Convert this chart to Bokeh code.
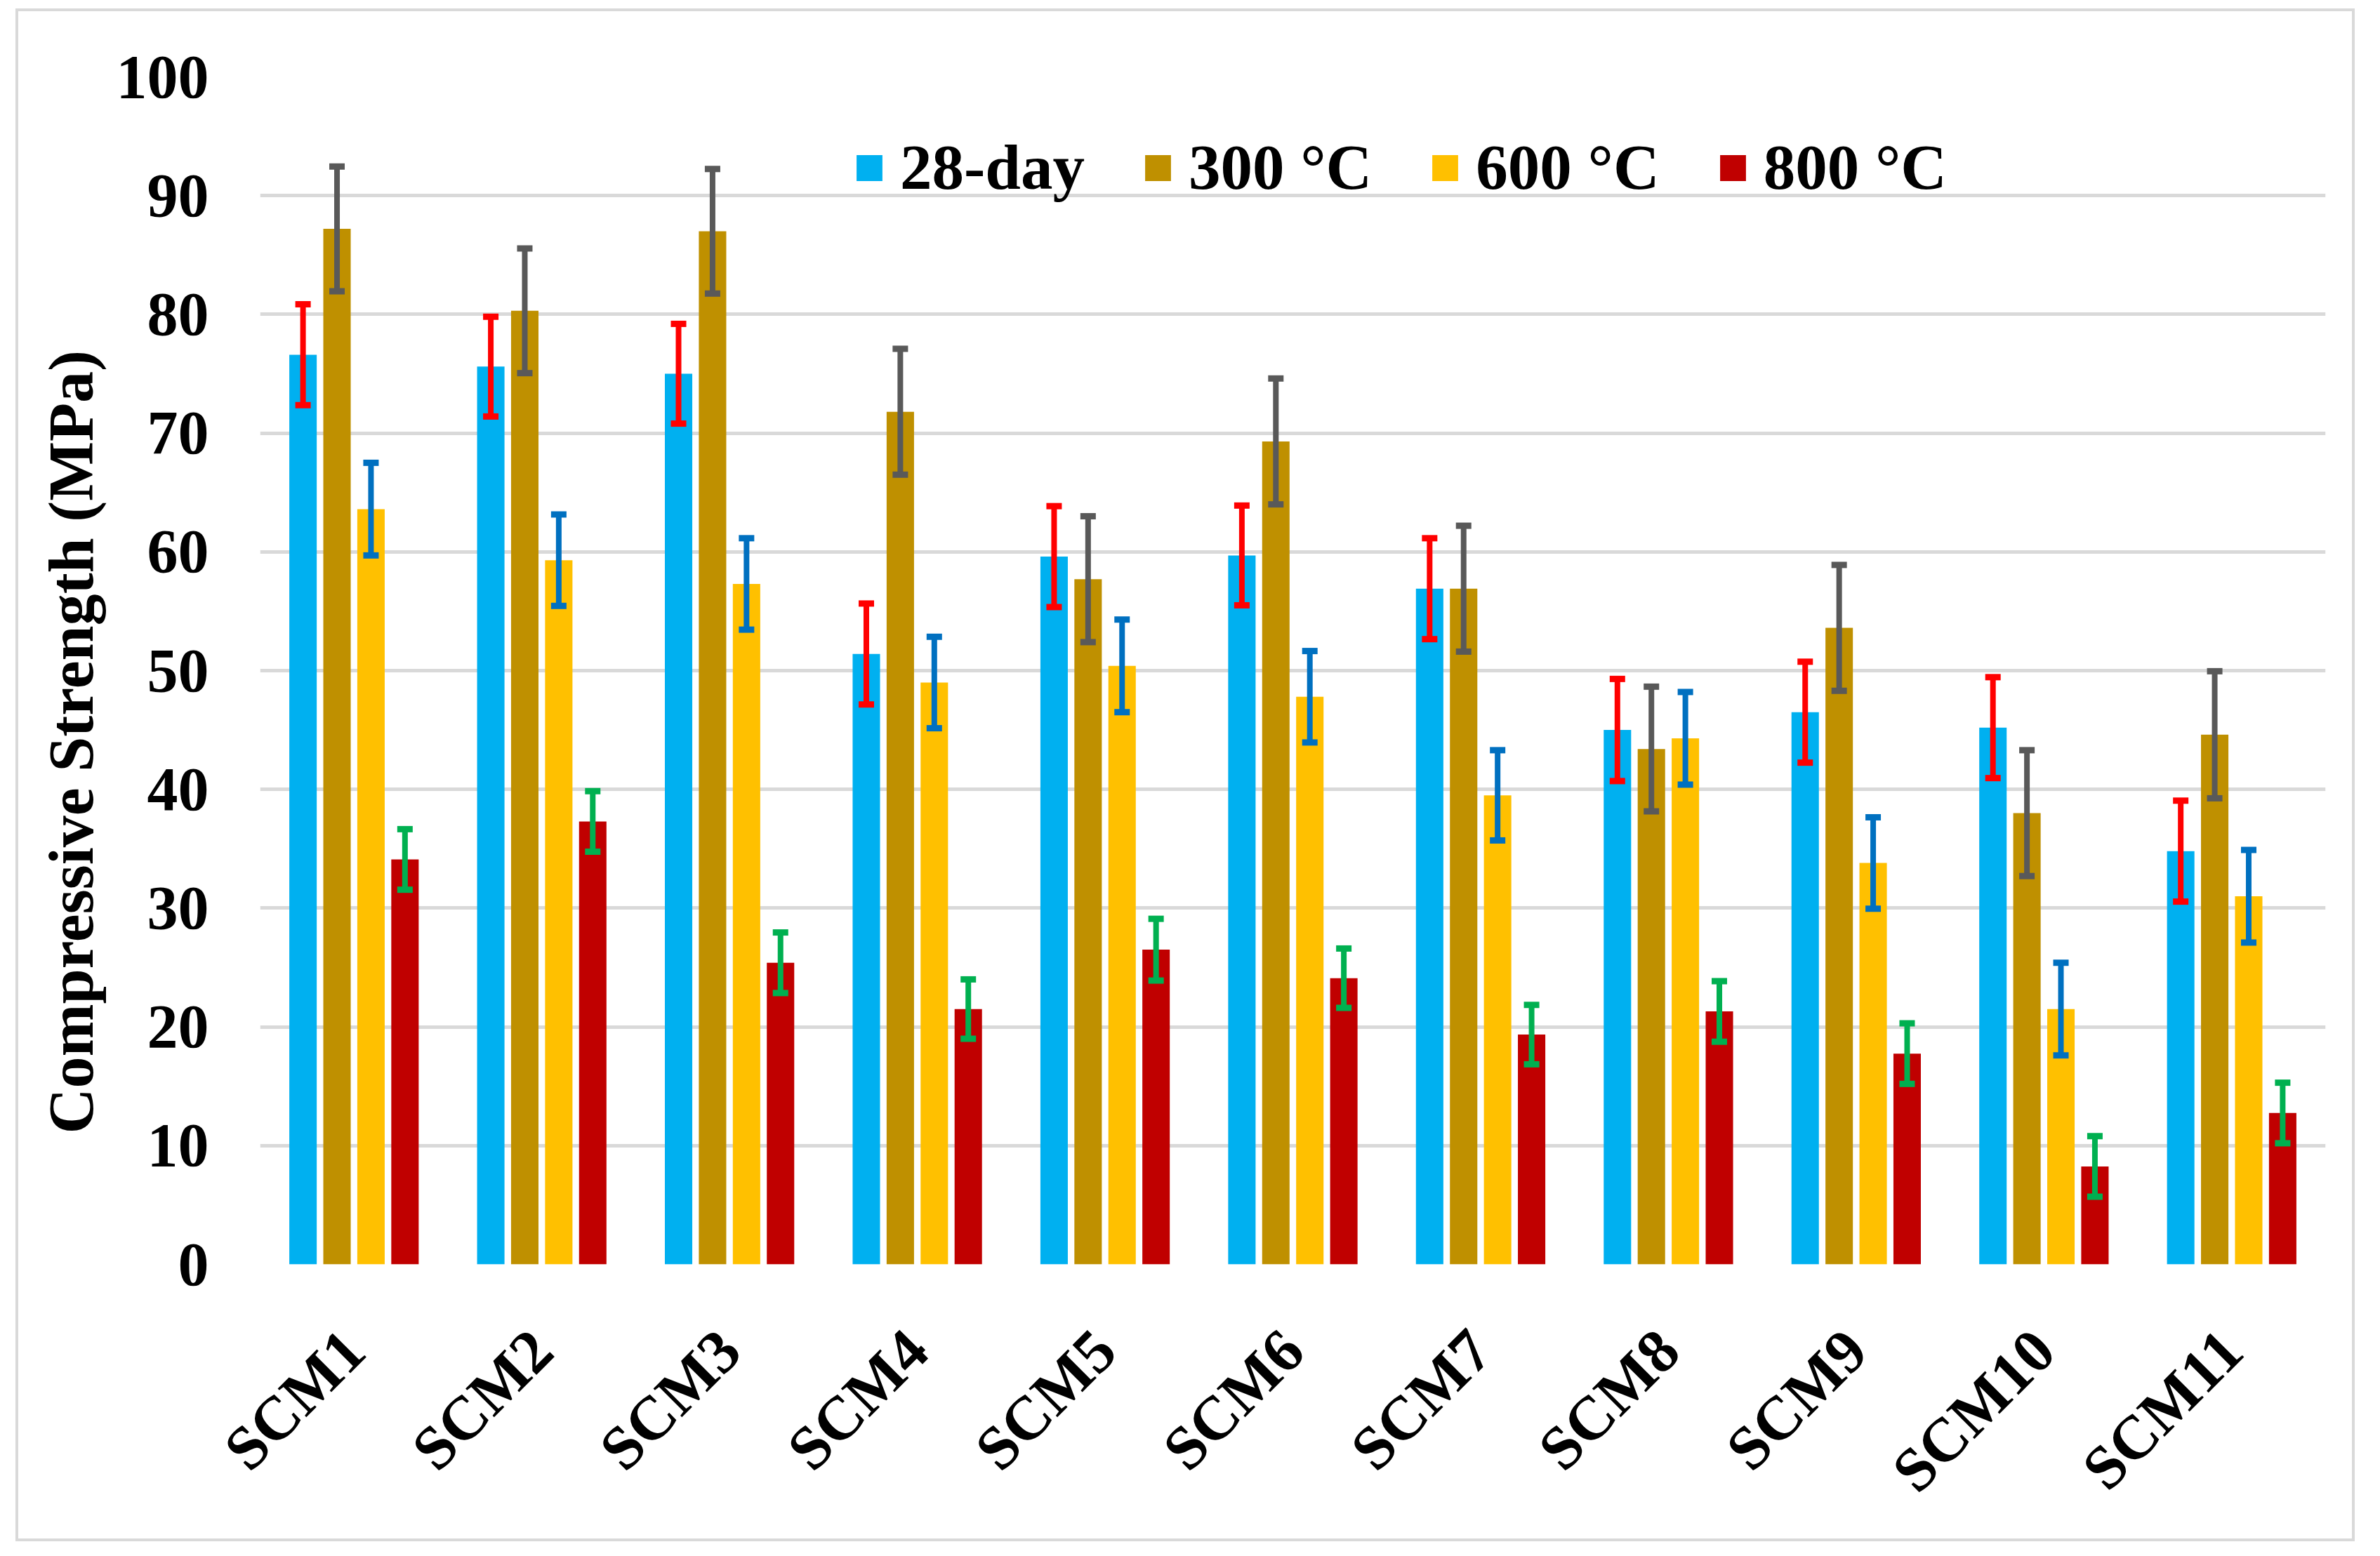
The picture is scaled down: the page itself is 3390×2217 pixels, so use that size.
import math
from bokeh.plotting import figure
from bokeh.models import (ColumnDataSource, FactorRange, Range1d, Whisker, TeeHead,
                          FixedTicker, Title)
from bokeh.transform import dodge
from bokeh.embed import file_html
from bokeh.resources import INLINE

categories = ["SCM1", "SCM2", "SCM3", "SCM4", "SCM5", "SCM6", "SCM7", "SCM8", "SCM9", "SCM10", "SCM11"]
series_names = ["28-day", "300 \u00b0C", "600 \u00b0C", "800 \u00b0C"]

day28 = [76.6, 75.6, 75.0, 51.4, 59.6, 59.7, 56.9, 45.0, 46.5, 45.2, 34.8]
c300 = [87.2, 80.3, 87.0, 71.8, 57.7, 69.3, 56.9, 43.4, 53.6, 38.0, 44.6]
c600 = [63.6, 59.3, 57.3, 49.0, 50.4, 47.8, 39.5, 44.3, 33.8, 21.5, 31.0]
c800 = [34.1, 37.3, 25.4, 21.5, 26.5, 24.1, 19.35, 21.3, 17.75, 8.25, 12.75]

err28 = [4.25, 4.2, 4.2, 4.25, 4.25, 4.2, 4.25, 4.3, 4.25, 4.25, 4.25]
err300 = [5.25, 5.25, 5.25, 5.3, 5.3, 5.3, 5.3, 5.25, 5.3, 5.3, 5.35]
err600 = [3.9, 3.85, 3.85, 3.85, 3.9, 3.85, 3.8, 3.9, 3.85, 3.9, 3.9]
err800 = [2.55, 2.55, 2.55, 2.5, 2.6, 2.5, 2.5, 2.55, 2.55, 2.55, 2.55]

y_ticks = [0, 10, 20, 30, 40, 50, 60, 70, 80, 90, 100]
y_title = "Compressive Strength (MPa)"

bar_colors = ["#00B0F0", "#BF9000", "#FFC000", "#C00000"]
err_colors = ["#FF0000", "#595959", "#0070C0", "#00B050"]
offsets = [-0.2715, -0.0905, 0.0905, 0.2715]
FONT = "Liberation Serif"

values = [day28, c300, c600, c800]
errors = [err28, err300, err600, err800]

p = figure(x_range=FactorRange(*categories), y_range=Range1d(0, 100),
           width=3332, height=2184, output_backend="svg", toolbar_location=None,
           min_border_left=344, min_border_right=46, min_border_top=93,
           min_border_bottom=399)
p.styles = {"border": "4px solid #D9D9D9", "margin-left": "22px", "margin-top": "12px",
            "box-sizing": "border-box"}
p.outline_line_color = None
p.background_fill_color = "white"
p.border_fill_color = "white"

for i, (vals, errs) in enumerate(zip(values, errors)):
    src = ColumnDataSource(dict(
        cat=categories, top=vals,
        upper=[v + e for v, e in zip(vals, errs)],
        lower=[v - e for v, e in zip(vals, errs)],
    ))
    p.vbar(x=dodge("cat", offsets[i], range=p.x_range), top="top", width=0.146,
           source=src, fill_color=bar_colors[i], line_color=None,
           legend_label=series_names[i])
    w = Whisker(source=src, base=dodge("cat", offsets[i], range=p.x_range),
                upper="upper", lower="lower", level="overlay",
                line_color=err_colors[i], line_width=8,
                upper_head=TeeHead(size=22, line_width=9, line_color=err_colors[i]),
                lower_head=TeeHead(size=22, line_width=9, line_color=err_colors[i]))
    p.add_layout(w)

p.xgrid.grid_line_color = None
p.ygrid.grid_line_color = "#D9D9D9"
p.ygrid.grid_line_width = 5
p.yaxis.ticker = FixedTicker(ticks=y_ticks)

for ax in (p.xaxis[0], p.yaxis[0]):
    ax.axis_line_color = None
    ax.major_tick_line_color = None
    ax.minor_tick_line_color = None
    ax.major_tick_out = 0
    ax.major_tick_in = 0
    ax.major_label_text_font = FONT
    ax.major_label_text_font_size = "88px"
    ax.major_label_text_font_style = "bold"
    ax.major_label_text_color = "black"

p.yaxis.major_label_standoff = 73
p.xaxis.major_label_orientation = math.pi / 4
p.xaxis.major_label_standoff = 108

ytitle = Title(text=y_title, align="left", offset=186, standoff=24,
               text_font=FONT, text_font_size="90px", text_font_style="bold",
               text_color="black")
p.add_layout(ytitle, "left")

lg = p.legend[0]
lg.orientation = "horizontal"
lg.location = (845, 1510)
lg.border_line_color = None
lg.background_fill_alpha = 0
lg.label_text_font = FONT
lg.label_text_font_size = "91px"
lg.label_text_font_style = "bold"
lg.label_text_color = "black"
lg.glyph_width = 46
lg.glyph_height = 46
lg.label_standoff = 21
lg.spacing = 81
lg.padding = 0
lg.margin = 0

open("out.html", "w").write(file_html(p, INLINE, "Compressive Strength"))
